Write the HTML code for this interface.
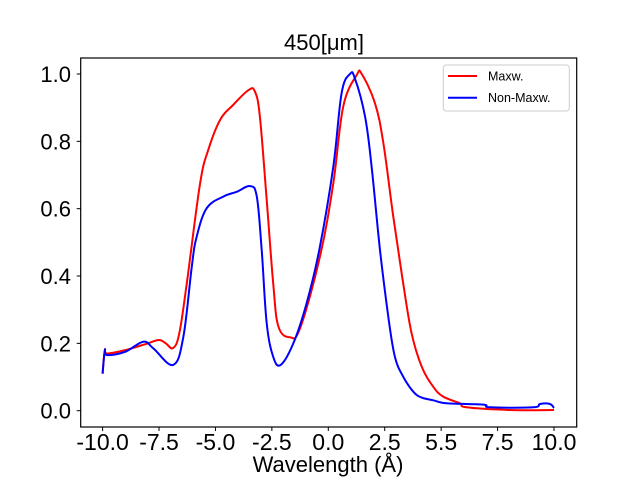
<!DOCTYPE html>
<html><head><meta charset="utf-8"><style>
body{margin:0;background:#fff;}
svg{display:block;font-family:"Liberation Sans","DejaVu Sans",sans-serif;}
</style></head><body>
<svg id="chart" width="640" height="480">
<rect width="640" height="480" fill="#fff"/>
<text x="324" y="50" text-anchor="middle" font-size="22">450[μm]</text>
<g id="plot"></g>
<rect x="80.7" y="58" width="496" height="369" fill="none" stroke="#000" stroke-width="1.2"/>
<text x="328" y="472" text-anchor="middle" font-size="22">Wavelength (Å)</text>
<g>
<rect x="443.3" y="65" width="126" height="46" rx="3" fill="#fff" stroke="#ccc"/>
<line x1="448" y1="76" x2="477" y2="76" stroke="#ff0000" stroke-width="2"/>
<text x="488" y="80.5" font-size="12.5">Maxw.</text>
<line x1="448" y1="97.7" x2="477" y2="97.7" stroke="#0000ff" stroke-width="2"/>
<text x="488" y="102" font-size="12.5">Non-Maxw.</text>
</g>
</svg>
<script>
const xTicks=[-10,-7.5,-5,-2.5,0,2.5,5,7.5,10];
const xTickLabels=["-10.0","-7.5","-5.0","-2.5","0.0","2.5","5.5","7.5","10.0"];
const yTicks=[0,0.2,0.4,0.6,0.8,1.0];
const yTickLabels=["0.0","0.2","0.4","0.6","0.8","1.0"];
const maxwX=[-10,-9.9,-9.8,-9,-8,-7.5,-7.2,-6.88,-6.6,-6.27,-5.68,-5.32,-4.8,-4.22,-3.54,-3.25,-3.03,-2.73,-2.44,-2.21,-1.7,-1.25,-0.37,0.22,0.66,1.26,1.48,2.07,2.44,2.88,3.32,3.69,4.14,4.65,5.09,5.83,6.12,8.04,10];
const maxwY=[0.11,0.18,0.17,0.18,0.2,0.21,0.2,0.186,0.23,0.378,0.675,0.774,0.863,0.908,0.952,0.948,0.873,0.626,0.378,0.25,0.218,0.245,0.457,0.675,0.903,0.997,1.0,0.913,0.794,0.576,0.378,0.23,0.131,0.071,0.042,0.022,0.01,0.002,0.002];
const nonX=[-10,-9.9,-9.8,-9,-8.2,-7.75,-6.87,-6.42,-6.05,-5.83,-5.39,-4.65,-4.06,-3.47,-3.17,-2.95,-2.73,-2.44,-2.11,-1.55,-0.96,-0.37,0.22,0.59,0.96,1.18,1.63,1.92,2.29,2.66,2.95,3.32,3.77,4.14,4.65,5.24,6.87,7.16,9.08,9.38,9.82,10];
const nonY=[0.11,0.18,0.165,0.175,0.205,0.185,0.136,0.22,0.428,0.517,0.601,0.636,0.65,0.667,0.636,0.477,0.26,0.16,0.136,0.2,0.319,0.487,0.725,0.943,1.0,0.987,0.873,0.725,0.477,0.279,0.16,0.101,0.056,0.039,0.031,0.022,0.018,0.01,0.01,0.02,0.02,0.008];
const NS="http://www.w3.org/2000/svg";
const sx=v=>328.3+v*22.57;
const sy=v=>410.7-v*336.7;
const g=document.getElementById('plot');
function mk(t,a){const e=document.createElementNS(NS,t);for(const k in a)e.setAttribute(k,a[k]);return e;}
xTicks.forEach((t,i)=>{
  const l=mk('line',{x1:sx(t),x2:sx(t),y1:427,y2:431,stroke:'#000'});
  
  
  g.appendChild(l);
  const tx=mk('text',{x:sx(t),y:450,'text-anchor':'middle','font-size':23});
  
  
  tx.textContent=xTickLabels[i];g.appendChild(tx);
});
yTicks.forEach((t,i)=>{
  const l=mk('line',{x1:76.7,x2:80.7,y1:sy(t),y2:sy(t),stroke:'#000'});
  
  
  g.appendChild(l);
  const tx=mk('text',{x:71,y:sy(t)+8,'text-anchor':'end','font-size':22});
  
  
  tx.textContent=yTickLabels[i];g.appendChild(tx);
});
function line(xs,ys,c,name){
  const P=xs.map((x,i)=>[sx(x),sy(ys[i])]);
  let d='M'+P[0][0].toFixed(1)+','+P[0][1].toFixed(1);
  const k=0.18;
  for(let i=0;i<P.length-1;i++){
    const p0=P[Math.max(i-1,0)],p1=P[i],p2=P[i+1],p3=P[Math.min(i+2,P.length-1)];
    const c1=[p1[0]+(p2[0]-p0[0])*k,p1[1]+(p2[1]-p0[1])*k];
    const c2=[p2[0]-(p3[0]-p1[0])*k,p2[1]-(p3[1]-p1[1])*k];
    d+='C'+c1.map(v=>v.toFixed(1)).join(',')+' '+c2.map(v=>v.toFixed(1)).join(',')+' '+p2[0].toFixed(1)+','+p2[1].toFixed(1);
  }
  const p=mk('path',{d:d,fill:'none',stroke:c,'stroke-width':2,'stroke-linejoin':'round'});
  
  
  g.appendChild(p);
}
line(maxwX,maxwY,'#ff0000','maxw-line');
line(nonX,nonY,'#0000ff','non-maxw-line');
</script>
</body></html>
